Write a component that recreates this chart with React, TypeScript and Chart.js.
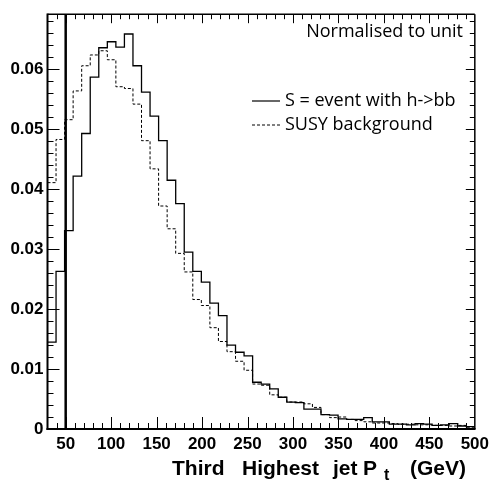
import React, { useEffect, useRef } from "react";
import { Chart, registerables } from "chart.js";

Chart.register(...registerables);

// Histogram binning: 50 bins from 30 to 500 GeV
const BIN_LOW = 30;
const BIN_WIDTH = 9.4;

// S = event with h->bb (solid)
const SIGNAL = [
  0.0145, 0.0263, 0.0331, 0.0422, 0.0493, 0.0587, 0.0636, 0.0646, 0.0637, 0.0659,
  0.0606, 0.0562, 0.0522, 0.0481, 0.0415, 0.0376, 0.0295, 0.0263, 0.0245, 0.021,
  0.0189, 0.014, 0.0128, 0.0122, 0.0078, 0.0075, 0.0067, 0.0053, 0.0045, 0.0044,
  0.0033, 0.0033, 0.0024, 0.0023, 0.0017, 0.0016, 0.0016, 0.0019, 0.0012, 0.0012,
  0.0008, 0.0008, 0.0007, 0.0009, 0.0008, 0.0006, 0.0007, 0.0009, 0.0005, 0.0004,
];

// SUSY background (dashed)
const BACKGROUND = [
  0.0411, 0.0483, 0.0516, 0.0564, 0.0606, 0.0624, 0.0631, 0.0616, 0.0571, 0.0568,
  0.0542, 0.0481, 0.0434, 0.0372, 0.0334, 0.0293, 0.0262, 0.0216, 0.0206, 0.0169,
  0.0146, 0.0129, 0.0113, 0.0098, 0.0075, 0.0073, 0.0057, 0.0053, 0.0045, 0.0045,
  0.0042, 0.0036, 0.0024, 0.0019, 0.002, 0.0016, 0.0014, 0.0012, 0.001, 0.001,
  0.0009, 0.0008, 0.0008, 0.0007, 0.0007, 0.0006, 0.0006, 0.0005, 0.0006, 0.0003,
];

const X_MIN = 30;
const X_MAX = 500;
const Y_MIN = 0;
const Y_MAX = 0.0692;
const X_TICKS = [50, 100, 150, 200, 250, 300, 350, 400, 450, 500];
const Y_TICKS = [0, 0.01, 0.02, 0.03, 0.04, 0.05, 0.06];
const Y_TICK_LABELS = ["0", "0.01", "0.02", "0.03", "0.04", "0.05", "0.06"];
const CUT_VALUE = 50;
const LEGEND_LABELS = ["S = event with h->bb", "SUSY background"];
const NOTE = "Normalised to unit";

const histPoints = (vals: number[]) => {
  const pts = vals.map((v, i) => ({ x: BIN_LOW + i * BIN_WIDTH, y: v }));
  pts.push({ x: BIN_LOW + vals.length * BIN_WIDTH, y: vals[vals.length - 1] });
  return pts;
};

const TICK_FONT = { family: '"Liberation Sans", Arial, sans-serif', size: 17, weight: "bold" as const };
const TEXT_FONT = '"Open Sans", "Noto Sans", sans-serif';

const decorPlugin = {
  id: "decor",
  afterDraw(chart: any) {
    const { ctx, chartArea: a, scales } = chart;
    const xs = scales.x;
    const ys = scales.y;
    const line = (x1: number, y1: number, x2: number, y2: number) => {
      ctx.beginPath();
      ctx.moveTo(x1, y1);
      ctx.lineTo(x2, y2);
      ctx.stroke();
    };
    ctx.save();
    ctx.strokeStyle = "#000";
    ctx.fillStyle = "#000";

    // cut line
    const cx = xs.getPixelForValue(CUT_VALUE);
    ctx.lineWidth = 2.5;
    line(cx, a.top, cx, a.bottom);

    // x ticks (inward, bottom and top)
    ctx.lineWidth = 1;
    for (let v = X_MIN + 10; v < X_MAX; v += 10) {
      const px = Math.round(xs.getPixelForValue(v)) + 0.5;
      const major = v % 50 === 0;
      const lb = major ? 12 : 6;
      const lt = major ? 9 : 5;
      line(px, a.bottom, px, a.bottom - lb);
      line(px, a.top, px, a.top + lt);
    }
    // y ticks (inward, left and right)
    for (let k = 1; k * 0.002 < Y_MAX; k++) {
      const v = k * 0.002;
      const py = Math.round(ys.getPixelForValue(v)) + 0.5;
      const major = k % 5 === 0;
      const ll = major ? 12 : 6;
      const lr = major ? 9 : 5;
      line(a.left, py, a.left + ll, py);
      line(a.right, py, a.right - lr, py);
    }

    // frame
    ctx.lineWidth = 1.5;
    line(a.left, a.top, a.right, a.top);
    line(a.right, a.top, a.right, a.bottom);
    ctx.lineWidth = 2;
    line(a.left, a.top - 0.75, a.left, a.bottom + 1);
    line(a.left - 1, a.bottom, a.right + 0.75, a.bottom);

    // note
    ctx.font = `18px ${TEXT_FONT}`;
    ctx.textBaseline = "middle";
    ctx.textAlign = "right";
    ctx.fillText(NOTE, 463, 32);

    // legend
    ctx.textAlign = "left";
    const ly = [101, 125];
    ctx.lineWidth = 1.2;
    line(252, ly[0], 280, ly[0]);
    ctx.setLineDash([3, 2]);
    ctx.lineWidth = 1;
    line(252, ly[1], 280, ly[1]);
    ctx.setLineDash([]);
    ctx.fillText(LEGEND_LABELS[0], 285, ly[0]);
    ctx.fillText(LEGEND_LABELS[1], 285, ly[1]);

    // axis title with subscript
    ctx.textBaseline = "alphabetic";
    ctx.font = 'bold 21px "Liberation Sans", Arial, sans-serif';
    ctx.fillText("Third", 172, 475);
    ctx.fillText("Highest", 242, 475);
    ctx.fillText("jet", 333, 475);
    ctx.fillText("P", 363, 475);
    ctx.fillText("(GeV)", 410, 475);
    ctx.font = 'bold 16px "Liberation Sans", Arial, sans-serif';
    ctx.fillText("t", 384, 480);

    ctx.restore();
  },
};

export default function App() {
  const ref = useRef<HTMLCanvasElement | null>(null);
  useEffect(() => {
    if (!ref.current) return;
    const chart = new Chart(ref.current, {
      type: "line",
      data: {
        datasets: [
          {
            label: LEGEND_LABELS[0],
            data: histPoints(SIGNAL),
            stepped: "before",
            borderColor: "#000",
            borderWidth: 1.3,
            pointRadius: 0,
            fill: false,
          },
          {
            label: LEGEND_LABELS[1],
            data: histPoints(BACKGROUND),
            stepped: "before",
            borderColor: "#000",
            borderWidth: 1,
            borderDash: [3, 2],
            pointRadius: 0,
            fill: false,
          },
        ],
      },
      options: {
        responsive: false,
        animation: false,
        layout: { padding: { top: 5, right: 18.5, left: 0, bottom: 0 } },
        plugins: { legend: { display: false }, tooltip: { enabled: false } },
        scales: {
          x: {
            type: "linear",
            min: X_MIN,
            max: X_MAX,
            grid: { display: false, drawTicks: false, tickLength: 0 },
            border: { display: false },
            afterBuildTicks: (s: any) => {
              s.ticks = X_TICKS.map((v) => ({ value: v }));
            },
            afterFit: (s: any) => {
              s.height = 57;
            },
            ticks: {
              font: TICK_FONT,
              color: "#000",
              padding: 5,
              maxRotation: 0,
              autoSkip: false,
              callback: (v: any) => String(v),
            },
          },
          y: {
            type: "linear",
            min: Y_MIN,
            max: Y_MAX,
            grid: { display: false, drawTicks: false, tickLength: 0 },
            border: { display: false },
            afterBuildTicks: (s: any) => {
              s.ticks = Y_TICKS.map((v) => ({ value: v }));
            },
            afterFit: (s: any) => {
              s.width = 47.5;
            },
            ticks: {
              font: TICK_FONT,
              color: "#000",
              padding: 4,
              autoSkip: false,
              callback: (v: any) => {
                const i = Y_TICKS.findIndex((t) => Math.abs(t - v) < 1e-9);
                return i >= 0 ? Y_TICK_LABELS[i] : "";
              },
            },
          },
        },
      },
      plugins: [decorPlugin],
    });
    return () => chart.destroy();
  }, []);
  return (
    <div style={{ position: "absolute", left: 0, top: 0, width: 494, height: 486, background: "#fff" }}>
      <canvas ref={ref} width={494} height={486} style={{ display: "block" }} />
    </div>
  );
}
